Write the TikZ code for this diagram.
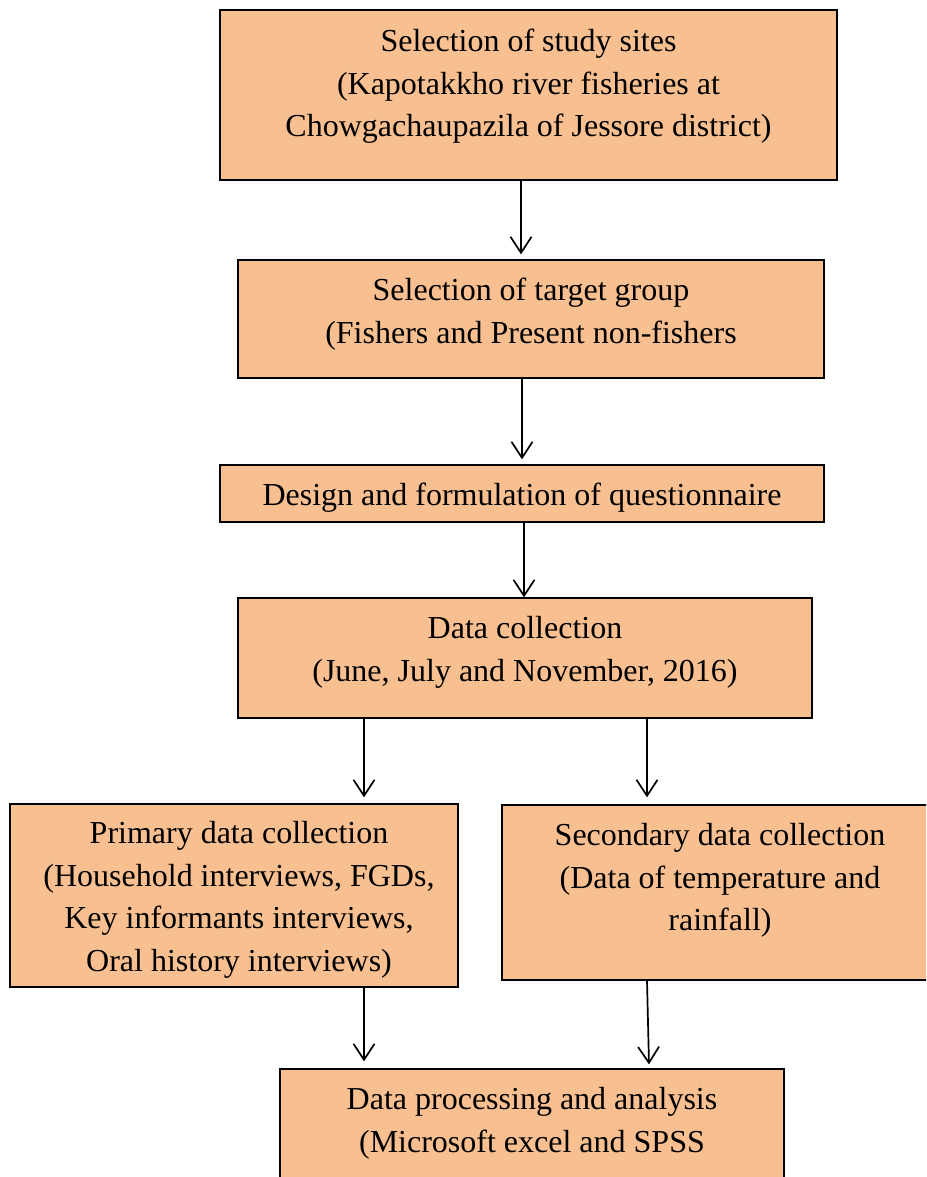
\documentclass[tikz,border=0pt]{standalone}
\usepackage{fontspec}
\setmainfont{Liberation Serif}
\usetikzlibrary{arrows.meta}
\definecolor{peach}{RGB}{248,191,145}
\begin{document}
\begin{tikzpicture}[x=1pt,y=-1pt,
  box/.style={draw=black, line width=1.3pt, fill=peach, rectangle, inner sep=0pt},
  txt/.style={anchor=north, inner sep=0pt, align=center, font=\fontsize{32}{42.5}\selectfont},
  arr/.style={line width=1.7pt, -{Straight Barb[length=16pt,width=21pt]}}]
\clip (0,0) rectangle (926,1177);
\useasboundingbox (0,0) rectangle (926,1177);
% boxes
\node[box, minimum width=617pt, minimum height=170pt] (b1) at (528.5,95) {};
\node[box, minimum width=586pt, minimum height=118pt] (b2) at (531,319) {};
\node[box, minimum width=604pt, minimum height=57pt] (b3) at (522,493.5) {};
\node[box, minimum width=574pt, minimum height=120pt] (b4) at (525,658) {};
\node[box, minimum width=448pt, minimum height=183pt] (b5) at (234,895.5) {};
\node[box, minimum width=440pt, minimum height=175pt] (b6) at (722,892.5) {};
\node[box, minimum width=504pt, minimum height=140pt] (b7) at (532,1139) {};
% texts
\node[txt] (t1) at ([yshift=-12pt]b1.north) {\rule{0pt}{30pt}Selection of study sites\\ (Kapotakkho river fisheries at\\Chowgachaupazila of Jessore district)};
\node[txt] (t2) at ([yshift=-11pt]b2.north) {\rule{0pt}{30pt}Selection of target group\\(Fishers and Present non-fishers};
\node[txt] (t3) at ([yshift=-11pt]b3.north) {\rule{0pt}{30pt}Design and formulation of questionnaire};
\node[txt] (t4) at ([yshift=-11pt]b4.north) {\rule{0pt}{30pt}Data collection\\(June, July and November, 2016)};
\node[txt] (t5) at ([xshift=5pt,yshift=-10pt]b5.north) {\rule{0pt}{30pt}Primary data collection\\(Household interviews, FGDs,\\Key informants interviews,\\Oral history interviews)};
\node[txt] (t6) at ([xshift=-2pt,yshift=-11pt]b6.north) {\rule{0pt}{30pt}Secondary data collection\\(Data of temperature and\\rainfall)};
\node[txt] (t7) at ([yshift=-11pt]b7.north) {\rule{0pt}{30pt}Data processing and analysis\\(Microsoft excel and SPSS};
% arrow columns
\coordinate (c1) at (521,0);
\coordinate (c2) at (522,0);
\coordinate (c3) at (524,0);
\coordinate (cl) at (364,0);
\coordinate (cr) at (647,0);
\coordinate (cr2) at (649,0);
% arrows
\draw[arr] (b1.south -| c1) -- ([yshift=5pt]b2.north -| c1);
\draw[arr] (b2.south -| c2) -- ([yshift=5pt]b3.north -| c2);
\draw[arr] (b3.south -| c3) -- (b4.north -| c3);
\draw[arr] (b4.south -| cl) -- ([yshift=6pt]b5.north -| cl);
\draw[arr] (b4.south -| cr) -- ([yshift=7pt]b6.north -| cr);
\draw[arr] (b5.south -| cl) -- ([yshift=7pt]b7.north -| cl);
\draw[arr] (b6.south -| cr) -- ([yshift=4pt]b7.north -| cr2);
\end{tikzpicture}
\end{document}
